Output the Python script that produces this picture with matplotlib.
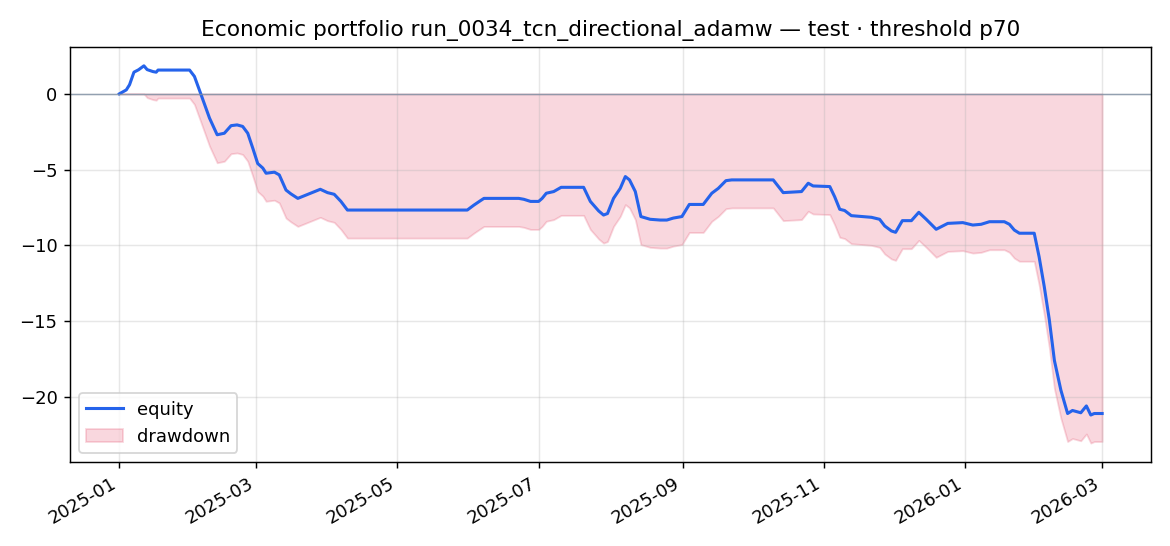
import numpy as np
import pandas as pd
import matplotlib
matplotlib.use("Agg")
import matplotlib.pyplot as plt
import matplotlib.dates as mdates

# equity curve: day offset from 2025-01-01 and value
start_date = "2025-01-01"
day_offsets = [0, 3, 4.4, 6.3, 8.3, 10.6, 12, 14.5, 15.9, 16.7, 30.3, 32.4, 35.3,
               38.9, 42.2, 45.3, 48.2, 50.8, 53.2, 55.4, 57.6, 59.7, 61.9, 63.3,
               66.9, 69, 71.9, 74, 77, 86.7, 89.8, 92.7, 95.6, 98.4, 150.1, 153,
               155.8, 157.3, 172.3, 174.5, 177.4, 180.9, 182.4, 184.2, 187.4, 190.6,
               200.3, 203.2, 206.8, 208.9, 210.6, 213.2, 216.1, 218.3, 220.1, 222.6,
               225, 229, 233.3, 236.2, 239, 242.7, 245.9, 251.9, 255.6, 258.4, 261.7,
               264.2, 282.1, 286.4, 294.3, 297.2, 299.3, 306.5, 308.6, 310.8, 312.9,
               315.8, 324.5, 328, 330.2, 333.1, 334.9, 337.8, 341.7, 344.9, 348.1,
               352.4, 357.4, 363.9, 368.2, 371.8, 375.4, 381.8, 384, 386.1, 388.3,
               394.7, 396.8, 399, 401.2, 403.4, 406.2, 409.1, 411.2, 414.8, 417.2,
               419.1, 420.6, 424]
equity = [0, 0.26, 0.6, 1.43, 1.59, 1.85, 1.6, 1.47, 1.43, 1.57, 1.57, 1.15, -0.07,
          -1.6, -2.7, -2.6, -2.1, -2.05, -2.15, -2.6, -3.6, -4.6, -4.9, -5.24,
          -5.17, -5.35, -6.35, -6.6, -6.9, -6.3, -6.52, -6.63, -7.1, -7.67, -7.67,
          -7.34, -7.05, -6.9, -6.9, -6.96, -7.1, -7.1, -6.9, -6.56, -6.45, -6.17,
          -6.17, -7.1, -7.73, -8.0, -7.9, -6.9, -6.24, -5.46, -5.68, -6.45,
          -8.1, -8.28, -8.33, -8.33, -8.2, -8.1, -7.3, -7.3, -6.56, -6.24, -5.73,
          -5.68, -5.68, -6.52, -6.45, -5.9, -6.08, -6.12, -6.79, -7.62, -7.7,
          -8.04, -8.15, -8.28, -8.72, -9.05, -9.14, -8.37, -8.37, -7.82, -8.28,
          -8.94, -8.55, -8.5, -8.66, -8.61, -8.44, -8.44, -8.61, -8.99, -9.2,
          -9.2, -10.75, -12.7, -14.9, -17.6, -19.56, -21.1, -20.9, -21.05,
          -20.6, -21.2, -21.1, -21.1]

dates = pd.Timestamp(start_date) + pd.to_timedelta(day_offsets, unit="D")
eq = np.array(equity)
drawdown = eq - np.maximum.accumulate(eq)

fig, ax = plt.subplots(figsize=(9, 4.2), dpi=130)

ax.plot(dates, eq, color="#2563eb", lw=1.7, label="equity")
ax.fill_between(dates, drawdown, 0, color="crimson", alpha=0.17, label="drawdown")
ax.axhline(0, color="#7d8fa3", lw=0.8, alpha=0.8)

ax.set_title("Economic portfolio run_0034_tcn_directional_adamw — test · threshold p70")
ax.xaxis.set_major_locator(mdates.MonthLocator(bymonth=range(1, 13, 2)))
ax.xaxis.set_major_formatter(mdates.DateFormatter("%Y-%m"))
ax.grid(True, alpha=0.3)
ax.legend(loc="lower left")
fig.autofmt_xdate()
fig.subplots_adjust(left=0.06, right=0.984, top=0.914, bottom=0.154)

fig.savefig("out.png")
